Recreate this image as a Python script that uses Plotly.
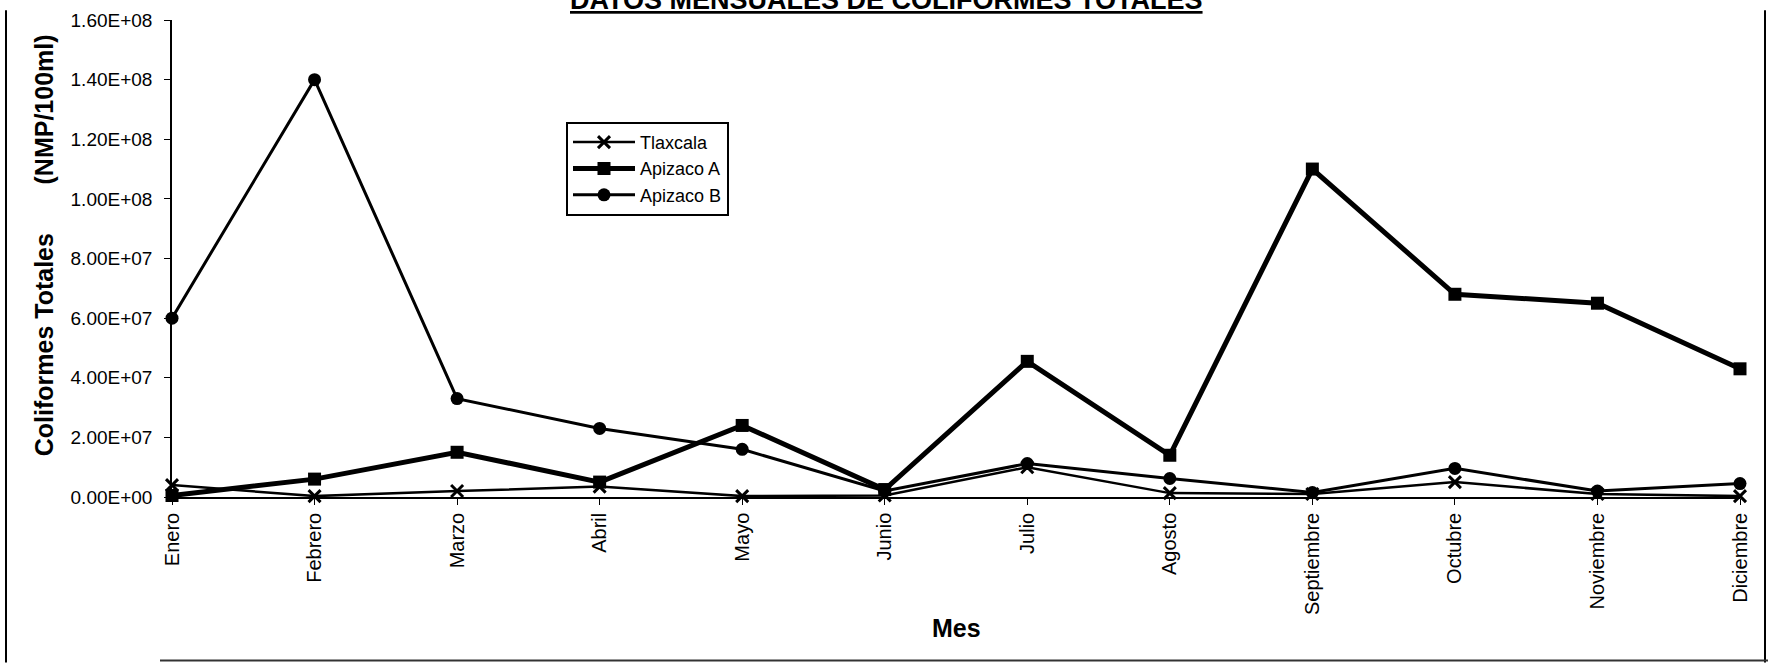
import plotly.graph_objects as go

meses = ["Enero", "Febrero", "Marzo", "Abril", "Mayo", "Junio", "Julio",
         "Agosto", "Septiembre", "Octubre", "Noviembre", "Diciembre"]

tlaxcala = [4.0e6, 3.0e5, 2.0e6, 3.5e6, 3.0e5, 5.0e5, 1.0e7, 1.3e6, 1.0e6, 5.0e6, 1.0e6, 3.0e5]
apizaco_a = [5.0e5, 6.0e6, 1.5e7, 5.0e6, 2.4e7, 2.5e6, 4.55e7, 1.4e7, 1.1e8, 6.8e7, 6.5e7, 4.3e7]
apizaco_b = [6.0e7, 1.4e8, 3.3e7, 2.3e7, 1.6e7, 2.0e6, 1.12e7, 6.2e6, 1.5e6, 9.6e6, 2.0e6, 4.5e6]

y_tick_vals = [0, 2e7, 4e7, 6e7, 8e7, 1e8, 1.2e8, 1.4e8, 1.6e8]
y_tick_text = ["0.00E+00", "2.00E+07", "4.00E+07", "6.00E+07", "8.00E+07",
               "1.00E+08", "1.20E+08", "1.40E+08", "1.60E+08"]

FONT = "Arial, 'Liberation Sans', sans-serif"

fig = go.Figure()
fig.add_trace(go.Scatter(
    x=meses, y=tlaxcala, name="Tlaxcala", mode="lines+markers",
    line=dict(color="black", width=2.5),
    marker=dict(symbol="x-thin-open", size=12, color="black",
                line=dict(color="black", width=3)),
    cliponaxis=False))
fig.add_trace(go.Scatter(
    x=meses, y=apizaco_a, name="Apizaco A", mode="lines+markers",
    line=dict(color="black", width=5),
    marker=dict(symbol="square", size=13, color="black"),
    cliponaxis=False))
fig.add_trace(go.Scatter(
    x=meses, y=apizaco_b, name="Apizaco B", mode="lines+markers",
    line=dict(color="black", width=3),
    marker=dict(symbol="circle", size=13, color="black"),
    cliponaxis=False))

L, R, T, B = 172, 28, 10, 169
W, H = 1768, 666
PW, PH = W - L - R, H - T - B


def px(x):
    return (x - L) / PW


def py(y):
    return (H - B - y) / PH


fig.update_layout(
    width=W, height=H,
    margin=dict(l=L, r=R, t=T, b=B, pad=0),
    paper_bgcolor="white", plot_bgcolor="white",
    font=dict(family=FONT, color="black"),
    showlegend=True,
    legend=dict(x=px(566), y=py(114), xanchor="left", yanchor="top",
                bgcolor="white", bordercolor="black", borderwidth=2,
                font=dict(size=18, family=FONT, color="black"),
                itemwidth=62, tracegroupgap=0),
    xaxis=dict(type="category", range=[0, 11], showgrid=False, zeroline=False,
               showline=True, linecolor="black", linewidth=1.5,
               ticks="outside", ticklen=6, tickcolor="black", tickwidth=1,
               tickangle=-90, tickfont=dict(size=20, family=FONT),
               ticklabelstandoff=0, ticklabeloverflow="allow"),
    yaxis=dict(range=[0, 1.6e8], showgrid=False, zeroline=False,
               showline=True, linecolor="black", linewidth=1.5,
               tickvals=y_tick_vals, ticktext=y_tick_text,
               ticks="outside", ticklen=6, tickcolor="black", tickwidth=1,
               tickfont=dict(size=19, family=FONT), ticklabelstandoff=8,
               ticklabeloverflow="allow"),
)

fig.add_annotation(
    xref="paper", yref="paper", x=px(886), y=py(7),
    xanchor="center", yanchor="bottom", showarrow=False,
    text="<b><u>DATOS MENSUALES DE COLIFORMES TOTALES</u></b>",
    font=dict(size=27, family=FONT, color="black"))
fig.add_annotation(
    xref="paper", yref="paper", x=px(44), y=py(240),
    xanchor="center", yanchor="middle", showarrow=False, textangle=-90,
    text="<b>Coliformes Totales" + "\u00a0" * 7 + "(NMP/100ml)</b>",
    font=dict(size=25, family=FONT, color="black"))
fig.add_annotation(
    xref="paper", yref="paper", x=px(956), y=py(631),
    xanchor="center", yanchor="middle", showarrow=False,
    text="<b>Mes</b>",
    font=dict(size=25, family=FONT, color="black"))

# page border lines of the scanned sheet
fig.add_shape(type="line", xref="paper", yref="paper",
              x0=px(6), x1=px(6), y0=py(0), y1=py(666),
              line=dict(color="black", width=2))
fig.add_shape(type="line", xref="paper", yref="paper",
              x0=px(1765), x1=px(1765), y0=py(0), y1=py(666),
              line=dict(color="black", width=2))
fig.add_shape(type="line", xref="paper", yref="paper",
              x0=px(160), x1=px(1768), y0=py(664), y1=py(664),
              line=dict(color="#333333", width=2))

fig.write_html("out.html", config={"displayModeBar": False},
               post_script="document.body.style.margin='0';")
